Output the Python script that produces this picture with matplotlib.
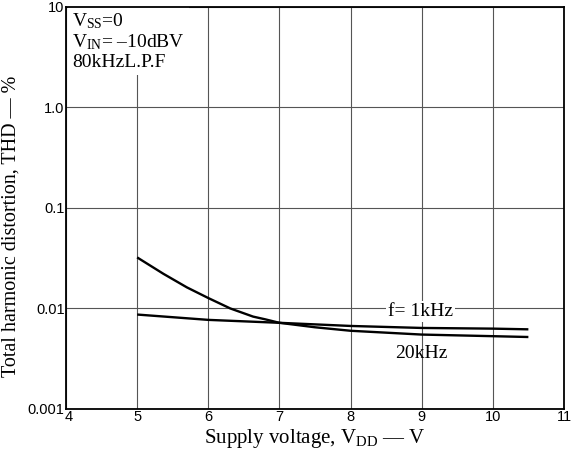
import matplotlib.pyplot as plt
import matplotlib.transforms as mtransforms
import numpy as np

plt.rcParams.update({
    "font.family": "Liberation Serif",
    "mathtext.fontset": "custom",
    "mathtext.rm": "Liberation Serif",
    "mathtext.it": "Liberation Serif:italic",
})

# values
vdd_20k = [5.0, 5.37, 5.70, 6.0, 6.31, 6.63, 6.8, 7.0, 7.5, 8.0, 9.0, 10.0, 10.5]
thd_20k = [0.0322, 0.0221, 0.0162, 0.0127, 0.0100, 0.0083, 0.0078, 0.0072,
           0.0065, 0.0060, 0.0055, 0.0053, 0.0052]
vdd_1k = [5.0, 6.0, 7.0, 8.0, 9.0, 10.0, 10.5]
thd_1k = [0.0087, 0.0077, 0.0072, 0.0067, 0.0064, 0.0063, 0.0062]

xticks = [4, 5, 6, 7, 8, 9, 10, 11]
yticks = [0.001, 0.01, 0.1, 1.0, 10]
ytick_labels = ["0.001", "0.01", "0.1", "1.0", "10"]

fig = plt.figure(figsize=(5.79, 4.58), dpi=100)
ax = fig.add_axes([0.114, 0.107, 0.86, 0.878])

ax.set_yscale("log")
ax.set_xlim(4, 11)
ax.set_ylim(0.001, 10)
ax.set_axisbelow(True)

ax.plot(vdd_20k, thd_20k, color="black", lw=1.7, solid_capstyle="butt", zorder=2)
ax.plot(vdd_1k, thd_1k, color="black", lw=1.7, solid_capstyle="butt", zorder=2)

ax.set_xticks(xticks)
ax.set_xticklabels([str(t) for t in xticks], fontfamily="Liberation Sans", fontsize=10.5)
ax.set_yticks(yticks)
ax.set_yticklabels(ytick_labels, fontfamily="Liberation Sans", fontsize=10.5)
ax.minorticks_off()
ax.tick_params(length=0, pad=1)
# nudge the "4" a bit right so it clears "0.001"
first = ax.get_xticklabels()[0]
first.set_transform(first.get_transform() +
                    mtransforms.ScaledTranslation(3 / 100, 0, fig.dpi_scale_trans))
ax.grid(True, color="#555555", lw=0.8)
for s in ax.spines.values():
    s.set_linewidth(1.3)
    s.set_zorder(3)

ax.set_xlabel(r"Supply voltage, V$_{\rm DD}$ — V", fontsize=15, labelpad=2)
ax.set_ylabel("Total harmonic distortion, THD — %", fontsize=14.5)
ax.yaxis.set_label_coords(-0.092, 0.455)

ax.text(8.98, 0.0094, "f= 1kHz", fontsize=14, ha="center", va="center", zorder=1,
        bbox=dict(facecolor="white", edgecolor="none", pad=1.5))
ax.text(9.0, 0.0036, "20kHz", fontsize=14, ha="center", va="center")

ax.text(0.012, 0.99, "V$_{\\rm SS}$=0\nV$_{\\rm IN}$= –10dBV\n80kHzL.P.F",
        transform=ax.transAxes, fontsize=14, ha="left", va="top", linespacing=1.12,
        zorder=1, bbox=dict(facecolor="white", edgecolor="none", pad=3))

fig.savefig("out.png", dpi=100)
